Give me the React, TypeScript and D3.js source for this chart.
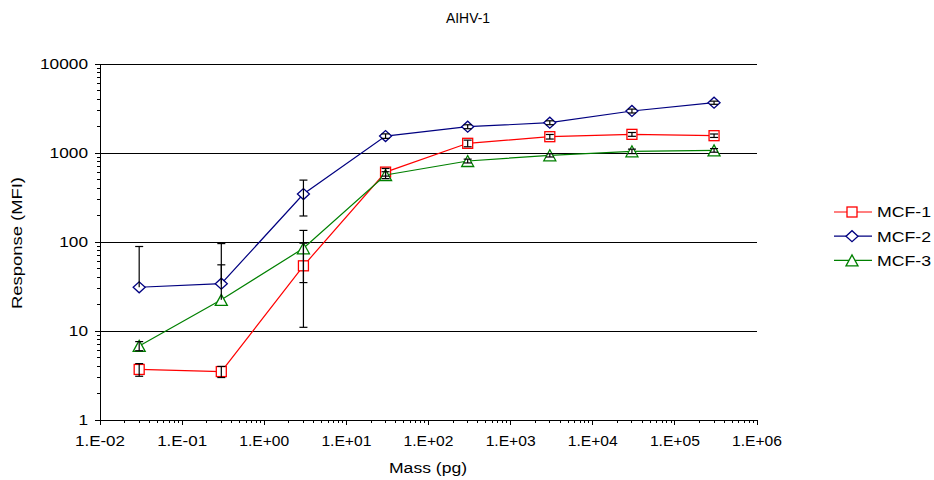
import React from "react";
import * as d3 from "d3";

const masses = [0.03, 0.3, 3, 30, 300, 3000, 30000, 300000];
const mcf1 = [3.7, 3.5, 54, 610, 1285, 1525, 1620, 1565];
const mcf1Err = [0.6, 0.5, 43, 60, 110, 90, 80, 70];
const mcf2 = [31, 34, 346, 1550, 1975, 2190, 2965, 3675];
const mcf2Err = [58, 62, 150, 90, 100, 110, 150, 150];
const mcf3 = [6.8, 22.4, 85, 566, 813, 942, 1045, 1071];
const mcf3Err = [0.8, 33, 50, 50, 40, 40, 60, 50];
const seriesNames = ["MCF-1", "MCF-2", "MCF-3"];
const seriesColors = ["#FF0000", "#000080", "#008000"];
const yTicks = [1, 10, 100, 1000, 10000];
const xTicks = [1e-2, 1e-1, 1e0, 1e1, 1e2, 1e3, 1e4, 1e5, 1e6];
const xTickLabels = ["1.E-02", "1.E-01", "1.E+00", "1.E+01", "1.E+02", "1.E+03", "1.E+04", "1.E+05", "1.E+06"];

const W = 934, H = 480;
const L = 100, R = 757, T = 64, B = 420;
const FONT = "'Liberation Sans', Arial, sans-serif";

function Marker({ kind, x, y, color }: { kind: number; x: number; y: number; color: string }) {
  if (kind === 0) return <rect x={x - 5} y={y - 5} width={10} height={10} fill="white" stroke={color} strokeWidth={1.3} />;
  if (kind === 1) return <path d={`M${x - 6},${y}L${x},${y - 5.5}L${x + 6},${y}L${x},${y + 5.5}Z`} fill="white" stroke={color} strokeWidth={1.3} />;
  return <path d={`M${x - 6},${y + 5.5}L${x},${y - 5.5}L${x + 6},${y + 5.5}Z`} fill="white" stroke={color} strokeWidth={1.3} />;
}

export default function App() {
  const x = d3.scaleLog().domain([1e-2, 1e6]).range([L, R]);
  const y = d3.scaleLog().domain([1, 10000]).range([B, T]);
  const series = [
    { v: mcf1, e: mcf1Err },
    { v: mcf2, e: mcf2Err },
    { v: mcf3, e: mcf3Err },
  ];
  const line = d3.line<[number, number]>().x(d => x(d[0])).y(d => y(d[1]));

  const minorY: number[] = [];
  for (let d = 0; d < 4; d++) for (let k = 2; k <= 9; k++) minorY.push(k * Math.pow(10, d));
  const minorX: number[] = [];
  for (let d = -2; d < 6; d++) for (let k = 2; k <= 9; k++) minorX.push(k * Math.pow(10, d));

  return (
    <svg width={W} height={H} style={{ position: "absolute", left: 0, top: 0 }} fontFamily={FONT}>
      <rect width={W} height={H} fill="white" />
      <text x={468} y={23} textAnchor="middle" fontSize={14} textLength={44} lengthAdjust="spacingAndGlyphs">AIHV-1</text>
      {/* gridlines */}
      {yTicks.slice(1).map(t => (
        <line key={t} x1={L} x2={R} y1={y(t)} y2={y(t)} stroke="#000" strokeWidth={1} shapeRendering="crispEdges" />
      ))}
      {/* axes */}
      <line x1={L} x2={L} y1={T} y2={B} stroke="#000" shapeRendering="crispEdges" />
      <line x1={L} x2={R} y1={B} y2={B} stroke="#000" shapeRendering="crispEdges" />
      {yTicks.map(t => (
        <g key={t}>
          <line x1={L - 5} x2={L} y1={y(t)} y2={y(t)} stroke="#000" shapeRendering="crispEdges" />
          <text x={L - 12} y={y(t)} dy="0.36em" textAnchor="end" fontSize={14}
            textLength={String(t).length * 9.6} lengthAdjust="spacingAndGlyphs">{t}</text>
        </g>
      ))}
      {minorY.map(t => (
        <line key={t} x1={L - 3} x2={L} y1={y(t)} y2={y(t)} stroke="#000" shapeRendering="crispEdges" />
      ))}
      {xTicks.map((t, i) => (
        <g key={t}>
          <line x1={x(t)} x2={x(t)} y1={B} y2={B + 5} stroke="#000" shapeRendering="crispEdges" />
          <text x={x(t)} y={B + 26} textAnchor="middle" fontSize={14} textLength={50} lengthAdjust="spacingAndGlyphs">{xTickLabels[i]}</text>
        </g>
      ))}
      {minorX.map(t => (
        <line key={t} x1={x(t)} x2={x(t)} y1={B} y2={B + 3} stroke="#000" shapeRendering="crispEdges" />
      ))}
      <text x={428} y={473} textAnchor="middle" fontSize={14} textLength={78} lengthAdjust="spacingAndGlyphs">Mass (pg)</text>
      <text transform={`translate(22,243) rotate(-90)`} textAnchor="middle" fontSize={14} textLength={132} lengthAdjust="spacingAndGlyphs">Response (MFI)</text>
      {/* series */}
      {series.map((s, si) => (
        <g key={si}>
          <path d={line(masses.map((m, i) => [m, s.v[i]] as [number, number])) || ""} fill="none" stroke={seriesColors[si]} strokeWidth={1.2} />
          {masses.map((m, i) => (
            <Marker key={i} kind={si} x={x(m)} y={y(s.v[i])} color={seriesColors[si]} />
          ))}
        </g>
      ))}
      {/* error bars */}
      {series.map((s, si) => (
        <g key={"e" + si} stroke="#000" strokeWidth={1.2}>
          {masses.map((m, i) => {
            const v = s.v[i], e = s.e[i];
            const cx = x(m);
            const yTop = y(v + e);
            const hasLow = v - e > 0;
            const yLow = hasLow ? y(v - e) : y(v);
            return (
              <g key={i}>
                <line x1={cx} x2={cx} y1={yTop} y2={yLow} />
                <line x1={cx - 4} x2={cx + 4} y1={yTop} y2={yTop} />
                {hasLow && <line x1={cx - 4} x2={cx + 4} y1={yLow} y2={yLow} />}
              </g>
            );
          })}
        </g>
      ))}
      {/* legend */}
      {seriesNames.map((n, i) => {
        const ly = 212 + i * 24.2;
        return (
          <g key={n}>
            <line x1={834} x2={872} y1={ly} y2={ly} stroke={seriesColors[i]} strokeWidth={1.2} />
            <Marker kind={i} x={852} y={ly} color={seriesColors[i]} />
            <text x={877} y={ly} dy="0.36em" fontSize={15} textLength={54} lengthAdjust="spacingAndGlyphs">{n}</text>
          </g>
        );
      })}
    </svg>
  );
}
